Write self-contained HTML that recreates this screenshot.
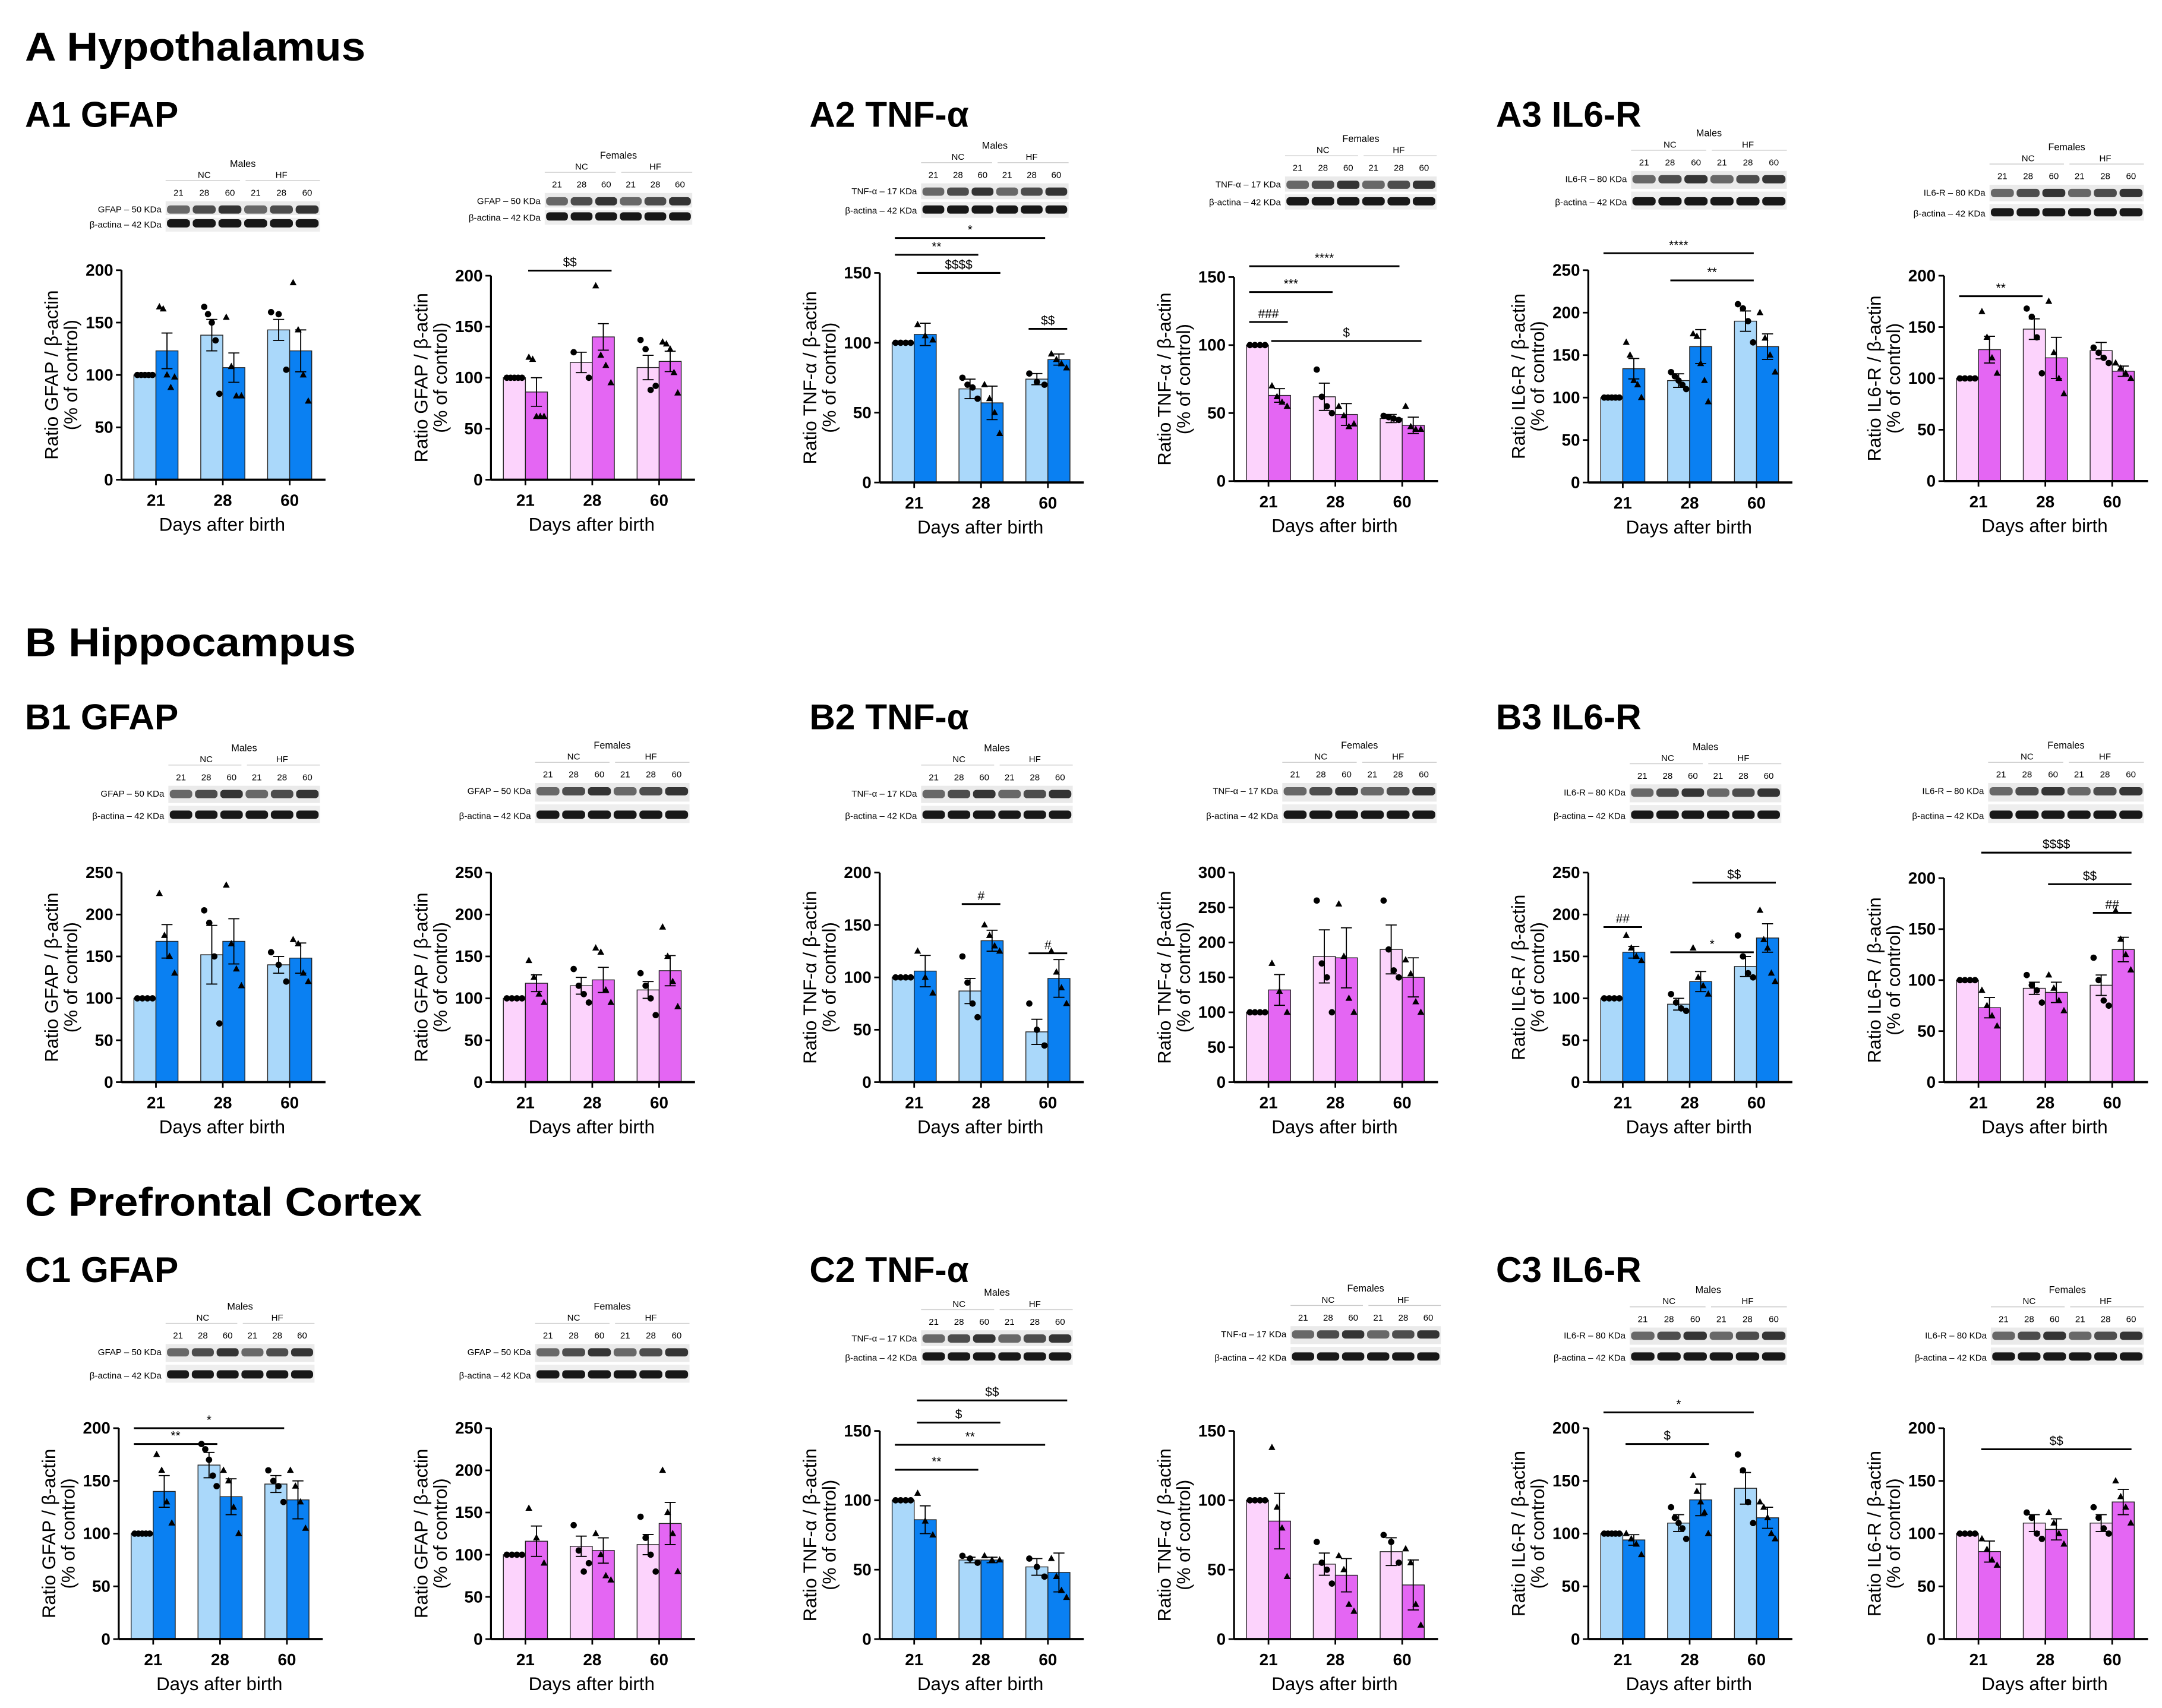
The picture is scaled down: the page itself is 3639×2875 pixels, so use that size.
<!DOCTYPE html>
<html><head><meta charset="utf-8">
<style>
html,body{margin:0;padding:0;background:#fff;}
svg{display:block;font-family:"Liberation Sans",Arial,sans-serif;}
</style></head>
<body>
<svg id="fig" width="3639" height="2875" viewBox="0 0 1568 1239" xmlns="http://www.w3.org/2000/svg">
<rect width="1568" height="1239" fill="#fff"/>
<g font-weight="bold" fill="#000" font-size="29">
<text x="18" y="44" textLength="247" lengthAdjust="spacingAndGlyphs">A Hypothalamus</text>
<text x="18" y="476" textLength="240" lengthAdjust="spacingAndGlyphs">B Hippocampus</text>
<text x="18" y="882" textLength="288" lengthAdjust="spacingAndGlyphs">C Prefrontal Cortex</text>
</g>
<g font-weight="bold" fill="#000" font-size="26">
<text x="18" y="92">A1 GFAP</text>
<text x="587" y="92">A2 TNF-α</text>
<text x="1085" y="92">A3 IL6-R</text>
<text x="18" y="529">B1 GFAP</text>
<text x="587" y="529">B2 TNF-α</text>
<text x="1085" y="529">B3 IL6-R</text>
<text x="18" y="930">C1 GFAP</text>
<text x="587" y="930">C2 TNF-α</text>
<text x="1085" y="930">C3 IL6-R</text>
</g>
</svg>
<script>
const days = ["21","28","60"];
const a1mVals=[100,123,138,107,143,123], a1mErr=[0,17,15,14,10,20];
const a1fVals=[100,86,115,140,110,116], a1fErr=[0,14,10,13,12,10];
const a2mVals=[100,106,67,57,74,88], a2mErr=[0,8,7,12,4,4];
const a2fVals=[100,63,62,49,46,41], a2fErr=[0,5,10,8,3,6];
const a3mVals=[100,134,120,160,190,160], a3mErr=[0,12,8,20,12,15];
const a3fVals=[100,128,148,120,127,107], a3fErr=[0,13,10,20,8,5];
const b1mVals=[100,168,152,168,140,148], b1mErr=[0,20,35,27,10,18];
const b1fVals=[100,118,115,122,110,133], b1fErr=[0,10,10,15,10,18];
const b2mVals=[100,106,87,135,48,99], b2mErr=[0,15,12,10,12,18];
const b2fVals=[100,132,180,178,190,150], b2fErr=[0,22,38,43,35,28];
const b3mVals=[100,155,93,120,138,172], b3mErr=[0,7,7,12,12,17];
const b3fVals=[100,73,92,88,95,130], b3fErr=[0,10,6,10,10,12];
const c1mVals=[100,140,165,135,147,132], c1mErr=[0,15,12,17,8,18];
const c1fVals=[100,116,110,105,112,137], c1fErr=[0,18,12,15,12,25];
const c2mVals=[100,86,57,57,52,48], c2mErr=[0,10,2,2,6,14];
const c2fVals=[100,85,54,46,63,39], c2fErr=[0,20,8,12,10,18];
const c3mVals=[100,94,110,132,143,115], c3mErr=[0,5,8,15,15,10];
const c3fVals=[100,83,110,104,110,130], c3fErr=[0,10,8,10,8,12];
const a1mPts=[[100,100,100,100,100],[165,163,100,88,98],[165,158,150,133,82],[155,108,80,80],[160,158,105],[188,143,100,75]];
const a1fPts=[[100,100,100,100,100],[120,118,62,62,62],[125,100],[190,122,112,95],[137,128,88,92],[135,133,128,105,85]];
const a2mPts=[[100,100,100,100],[113,105,102],[75,70,68,60],[70,60,50,35],[78,72,70],[92,88,85,82]];
const a2fPts=[[100,100,100,100],[70,62,58,55],[82,62,55,50],[55,48,40,42],[48,47,46,45],[55,40,38,38]];
const a3mPts=[[100,100,100,100,100],[165,150,120,115,100],[130,125,120,115,110],[175,172,140,120,95],[210,205,190,165],[200,170,150,130]];
const a3fPts=[[100,100,100,100],[165,140,120,105],[168,160,140,105],[175,125,100,85],[130,125,120,115],[115,110,105,100]];
const b1mPts=[[100,100,100,100],[225,175,150,130],[205,190,150,70],[235,165,135,115],[155,140,120],[170,165,130,120]];
const b1fPts=[[100,100,100,100],[145,125,105,95],[135,115,105,95],[160,155,110,95],[130,115,100,80],[185,150,120,90]];
const b2mPts=[[100,100,100,100],[125,100,85],[120,95,75,62],[150,140,130,125],[75,50,35],[125,105,90,75]];
const b2fPts=[[100,100,100,100],[170,130,100],[260,170,150,100],[255,180,120,100],[260,190,160,150],[175,155,115,100]];
const b3mPts=[[100,100,100,100],[175,160,150,145],[105,95,88,85],[160,125,115,105],[175,150,130,125],[205,170,160,130,120]];
const b3fPts=[[100,100,100,100],[90,75,65,55],[105,95,90,78],[105,92,80,70],[122,100,80,75],[168,140,125,110]];
const c1mPts=[[100,100,100,100,100],[175,160,130,110],[185,180,170,155,145],[160,150,125,100],[160,150,145,130],[160,145,130,105]];
const c1fPts=[[100,100,100,100],[155,120,90],[135,105,80,90],[125,100,75,70],[145,120,100,80],[200,150,125,80]];
const c2mPts=[[100,100,100,100],[105,85,75],[60,58,55],[60,57,57],[58,52,45],[58,45,35,30]];
const c2fPts=[[100,100,100,100],[138,95,80,45],[70,55,50,40],[60,50,25,20],[75,70,55],[65,55,25,10]];
const c3mPts=[[100,100,100,100,100],[100,95,90,80],[125,115,110,105,95],[155,140,130,120,100],[175,160,130,110],[130,125,115,100,95]];
const c3fPts=[[100,100,100,100],[95,85,75,70],[120,115,100,95],[120,110,100,90],[125,115,105,100],[150,135,125,110]];
const a1fSig=[[1,3,205,"$$"]];
const a2mSig=[[0,2,163,"**"],[0,4,175,"*"],[1,3,150,"$$$$"],[4,5,110,"$$"]];
const a2fSig=[[0,4,158,"****"],[0,2,139,"***"],[0,1,117,"###"],[1,5,103,"$"]];
const a3mSig=[[0,4,270,"****"],[2,4,238,"**"]];
const a3fSig=[[0,2,180,"**"]];
const b2mSig=[[2,3,170,"#"],[4,5,123,"#"]];
const b3mSig=[[0,1,185,"##"],[2,4,155,"*"],[3,5,238,"$$"]];
const b3fSig=[[1,5,225,"$$$$"],[3,5,194,"$$"],[4,5,166,"##"]];
const c1mSig=[[0,2,185,"**"],[0,4,200,"*"]];
const c2mSig=[[0,2,122,"**"],[0,4,140,"**"],[1,3,156,"$"],[1,5,172,"$$"]];
const c3mSig=[[0,4,215,"*"],[1,3,185,"$"]];
const c3fSig=[[1,5,180,"$$"]];

const NS="http://www.w3.org/2000/svg";
const svg=document.getElementById('fig');
function mk(tag,attrs,parent){const e=document.createElementNS(NS,tag);for(const k in attrs)e.setAttribute(k,attrs[k]);(parent||svg).appendChild(e);return e;}

const panels=[
 {id:"a1-males",gx:113,top:196,bot:348,max:200,prot:"GFAP",kda:"50",sex:"m",v:a1mVals,e:a1mErr,p:a1mPts,s:[],bl:[120,232,146,168]},
 {id:"a1-females",gx:381,top:200,bot:348,max:200,prot:"GFAP",kda:"50",sex:"f",v:a1fVals,e:a1fErr,p:a1fPts,s:a1fSig,bl:[395,502,140,163]},
 {id:"a2-males",gx:663,top:198,bot:350,max:150,prot:"TNF-α",kda:"17",sex:"m",v:a2mVals,e:a2mErr,p:a2mPts,s:a2mSig,bl:[668,775,133,158]},
 {id:"a2-females",gx:920,top:201,bot:349,max:150,prot:"TNF-α",kda:"17",sex:"f",v:a2fVals,e:a2fErr,p:a2fPts,s:a2fSig,bl:[932,1042,128,152]},
 {id:"a3-males",gx:1177,top:196,bot:350,max:250,prot:"IL6-R",kda:"80",sex:"m",v:a3mVals,e:a3mErr,p:a3mPts,s:a3mSig,bl:[1183,1296,124,152]},
 {id:"a3-females",gx:1435,top:200,bot:349,max:200,prot:"IL6-R",kda:"80",sex:"f",v:a3fVals,e:a3fErr,p:a3fPts,s:a3fSig,bl:[1443,1555,134,160]},
 {id:"b1-males",gx:113,top:633,bot:785,max:250,prot:"GFAP",kda:"50",sex:"m",v:b1mVals,e:b1mErr,p:b1mPts,s:[],bl:[122,232,570,597]},
 {id:"b1-females",gx:381,top:633,bot:785,max:250,prot:"GFAP",kda:"50",sex:"f",v:b1fVals,e:b1fErr,p:b1fPts,s:[],bl:[388,500,568,597]},
 {id:"b2-males",gx:663,top:633,bot:785,max:200,prot:"TNF-α",kda:"17",sex:"m",v:b2mVals,e:b2mErr,p:b2mPts,s:b2mSig,bl:[668,778,570,597]},
 {id:"b2-females",gx:920,top:633,bot:785,max:300,prot:"TNF-α",kda:"17",sex:"f",v:b2fVals,e:b2fErr,p:b2fPts,s:[],bl:[930,1042,568,597]},
 {id:"b3-males",gx:1177,top:633,bot:785,max:250,prot:"IL6-R",kda:"80",sex:"m",v:b3mVals,e:b3mErr,p:b3mPts,s:b3mSig,bl:[1182,1292,569,597]},
 {id:"b3-females",gx:1435,top:637,bot:785,max:200,prot:"IL6-R",kda:"80",sex:"f",v:b3fVals,e:b3fErr,p:b3fPts,s:b3fSig,bl:[1442,1555,568,597]},
 {id:"c1-males",gx:111,top:1036,bot:1189,max:200,prot:"GFAP",kda:"50",sex:"m",v:c1mVals,e:c1mErr,p:c1mPts,s:c1mSig,bl:[120,228,975,1003]},
 {id:"c1-females",gx:381,top:1036,bot:1189,max:250,prot:"GFAP",kda:"50",sex:"f",v:c1fVals,e:c1fErr,p:c1fPts,s:[],bl:[388,500,975,1003]},
 {id:"c2-males",gx:663,top:1038,bot:1189,max:150,prot:"TNF-α",kda:"17",sex:"m",v:c2mVals,e:c2mErr,p:c2mPts,s:c2mSig,bl:[668,778,965,990]},
 {id:"c2-females",gx:920,top:1038,bot:1189,max:150,prot:"TNF-α",kda:"17",sex:"f",v:c2fVals,e:c2fErr,p:c2fPts,s:[],bl:[936,1045,962,990]},
 {id:"c3-males",gx:1177,top:1036,bot:1189,max:200,prot:"IL6-R",kda:"80",sex:"m",v:c3mVals,e:c3mErr,p:c3mPts,s:c3mSig,bl:[1182,1296,963,990]},
 {id:"c3-females",gx:1435,top:1036,bot:1189,max:200,prot:"IL6-R",kda:"80",sex:"f",v:c3fVals,e:c3fErr,p:c3fPts,s:c3fSig,bl:[1444,1555,963,990]}
];
const colors={m:["#aad8fa","#0a80f2"],f:["#fcd3fc","#e466f3"]};

panels.forEach(P=>{
 const g=mk('g',{});
 
 
 const ax=P.gx-25, axEnd=P.gx+123;
 const y=v=>P.bot-(v/P.max)*(P.bot-P.top);
 const gc=i=>P.gx+i*48.5;
 const barX=i=>gc(Math.floor(i/2))+(i%2===0?-16:0);
 const [x1,x2,y1,y2]=P.bl;
 const bg=mk('g',{},g);
 
 
 const mid=(y1+y2)/2, lw=(x2-x1)/6;
 const hdr=mk('text',{x:(x1+x2)/2,y:y1-25,'font-size':7,'text-anchor':'middle'},bg);
 hdr.textContent=P.sex==='m'?'Males':'Females';
 mk('line',{x1:x1,x2:(x1+x2)/2-2,y1:y1-15,y2:y1-15,stroke:'#ccc','stroke-width':0.6},bg);
 mk('line',{x1:(x1+x2)/2+2,x2:x2,y1:y1-15,y2:y1-15,stroke:'#ccc','stroke-width':0.6},bg);
 const nc=mk('text',{x:x1+lw*1.5,y:y1-17,'font-size':6.5,'text-anchor':'middle'},bg);nc.textContent='NC';
 const hf=mk('text',{x:x1+lw*4.5,y:y1-17,'font-size':6.5,'text-anchor':'middle'},bg);hf.textContent='HF';
 mk('rect',{x:x1,y:y1,width:x2-x1,height:mid-y1-1,fill:'#bbb',opacity:0.3},bg);
 mk('rect',{x:x1,y:mid+1,width:x2-x1,height:y2-mid-1,fill:'#bbb',opacity:0.25},bg);
 for(let k=0;k<6;k++){
  const t=mk('text',{x:x1+lw*(k+0.5),y:y1-4,'font-size':6.5,'text-anchor':'middle'},bg);t.textContent=days[k%3];
  mk('rect',{x:x1+lw*k+1,y:y1+3,width:lw-2,height:6,fill:'#111',rx:2.5,opacity:0.6+0.12*(k%3)},bg);
  mk('rect',{x:x1+lw*k+1,y:y2-9,width:lw-2,height:6,fill:'#000',rx:2.5,opacity:0.9},bg);
 }
 const l1=mk('text',{x:x1-3,y:y1+8,'font-size':6.5,'text-anchor':'end'},bg);l1.textContent=P.prot+' – '+P.kda+' KDa';
 const l2=mk('text',{x:x1-3,y:y2-3,'font-size':6.5,'text-anchor':'end'},bg);l2.textContent='β-actina – 42 KDa';
 P.v.forEach((val,i)=>{
  const r=mk('rect',{x:barX(i),y:y(val),width:16,height:P.bot-y(val),fill:colors[P.sex][i%2],stroke:'#222','stroke-width':0.6},g);
  
  
  const cx=barX(i)+8;
  if(P.e[i]>0){
   mk('line',{x1:cx,x2:cx,y1:y(val-P.e[i]),y2:y(val+P.e[i]),stroke:'#000','stroke-width':0.8},g);
   mk('line',{x1:cx-4,x2:cx+4,y1:y(val+P.e[i]),y2:y(val+P.e[i]),stroke:'#000','stroke-width':0.8},g);
   mk('line',{x1:cx-4,x2:cx+4,y1:y(val-P.e[i]),y2:y(val-P.e[i]),stroke:'#000','stroke-width':0.8},g);
  }
  const pts=P.p[i];
  pts.forEach((pv,j)=>{
   const px=cx+(pts.length>1?(j/(pts.length-1)-0.5)*11:0);
   let m;
   if(i%2===0) m=mk('circle',{cx:px,cy:y(pv),r:2.3,fill:'#000'},g);
   else m=mk('path',{d:`M${px} ${y(pv)-2.8}L${px+2.5} ${y(pv)+1.8}L${px-2.5} ${y(pv)+1.8}Z`,fill:'#000'},g);
   
   
  });
 });
 mk('line',{x1:ax,x2:ax,y1:P.top,y2:P.bot,stroke:'#000','stroke-width':1.4},g);
 mk('line',{x1:ax,x2:axEnd,y1:P.bot,y2:P.bot,stroke:'#000','stroke-width':1.6},g);
 for(let t=0;t<=P.max;t+=50){
  mk('line',{x1:ax-4,x2:ax,y1:y(t),y2:y(t),stroke:'#000','stroke-width':1.2},g);
  const tl=mk('text',{x:ax-6,y:y(t)+4,'font-size':12,'font-weight':'bold','text-anchor':'end'},g);
  tl.textContent=t;
  
  
 }
 days.forEach((d,k)=>{
  mk('line',{x1:gc(k),x2:gc(k),y1:P.bot,y2:P.bot+4,stroke:'#000','stroke-width':1.2},g);
  const tl=mk('text',{x:gc(k),y:P.bot+19,'font-size':12,'font-weight':'bold','text-anchor':'middle'},g);
  tl.textContent=d;
  
  
 });
 const xt=mk('text',{x:P.gx+48,y:P.bot+37,'font-size':13.5,'text-anchor':'middle'},g);
 xt.textContent='Days after birth';
 
 
 const cy=(P.top+P.bot)/2;
 const yt=mk('text',{x:0,y:0,'font-size':13.5,'text-anchor':'middle',transform:`translate(${ax-46},${cy}) rotate(-90)`},g);
 yt.textContent='Ratio '+P.prot+' / β-actin';
 
 
 const yt2=mk('text',{x:0,y:0,'font-size':13.5,'text-anchor':'middle',transform:`translate(${ax-32},${cy}) rotate(-90)`},g);
 yt2.textContent='(% of control)';
 
 
 P.s.forEach(s=>{
  const sy=y(s[2]);
  const sx1=barX(s[0])+2, sx2=barX(s[1])+14;
  mk('line',{x1:sx1,x2:sx2,y1:sy,y2:sy,stroke:'#000','stroke-width':1.3},g);
  const st=mk('text',{x:(sx1+sx2)/2,y:sy-3,'font-size':9,'text-anchor':'middle'},g);
  st.textContent=s[3];
  
  
 });
});
</script>
</body></html>
